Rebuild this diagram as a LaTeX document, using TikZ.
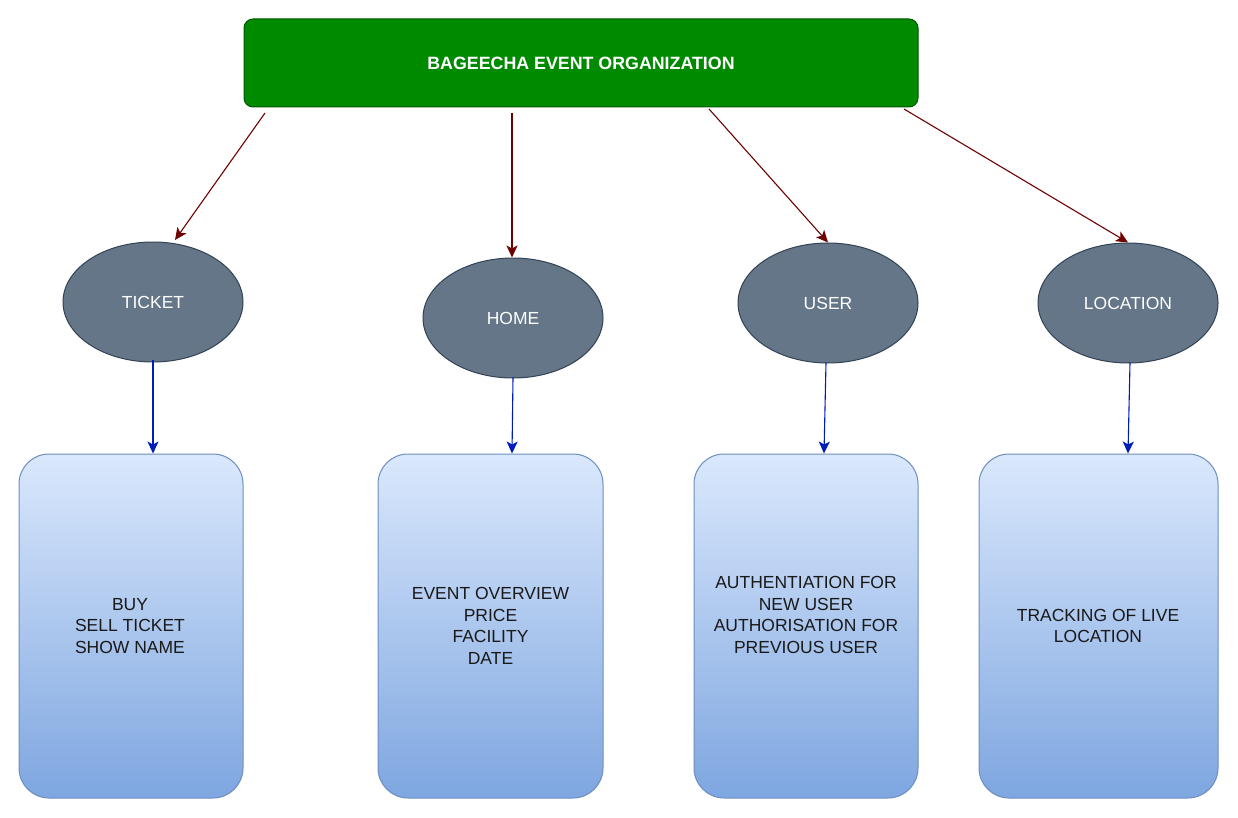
\documentclass[tikz,border=0pt]{standalone}
\usepackage{fontspec}
\setmainfont{Liberation Sans}
\usetikzlibrary{shapes.geometric,arrows.meta}
\definecolor{topfill}{HTML}{008A00}
\definecolor{topdraw}{HTML}{005700}
\definecolor{ellfill}{HTML}{647687}
\definecolor{elldraw}{HTML}{314354}
\definecolor{redarr}{HTML}{6F0000}
\definecolor{bluearr}{HTML}{001DBC}
\definecolor{boxtop}{HTML}{DAE8FC}
\definecolor{boxbot}{HTML}{7EA6E0}
\definecolor{boxdraw}{HTML}{6C8EBF}
\tikzset{
  topbox/.style={draw=topdraw, fill=topfill, line width=1pt, rounded corners=9pt,
    minimum width=674pt, minimum height=88pt, inner sep=0pt,
    font=\fontsize{17.8}{20}\selectfont\bfseries, text=white},
  ell/.style={ellipse, draw=elldraw, fill=ellfill, line width=1pt,
    minimum width=180pt, minimum height=120pt, inner sep=0pt,
    font=\fontsize{17.5}{21}\selectfont, text=white},
  infobox/.style={draw=boxdraw, line width=1pt, rounded corners=30pt,
    top color=boxtop, bottom color=boxbot, inner sep=0pt, minimum height=344pt},
  infotext/.style={align=center, font=\fontsize{17.5}{21.7}\selectfont, text=black!90},
  redarrow/.style={draw=redarr, line width=1.1pt, -{Stealth[length=12pt,width=11pt,inset=3pt]}},
  bluearrow/.style={draw=bluearr, line width=1.1pt, -{Stealth[length=12pt,width=11pt,inset=3pt]}}
}
\begin{document}
\begin{tikzpicture}[x=1pt,y=-1pt]
\useasboundingbox (0,0) rectangle (1238,818);
\fill[white] (0,0) rectangle (1238,818);

\node[topbox] (top) at (581,63) {BAGEECHA EVENT ORGANIZATION};

\node[ell] (ticket) at (153,302) {TICKET};
\node[ell] (home) at (513,318) {HOME};
\node[ell] (user) at (828,303) {USER};
\node[ell] (loc) at (1128,303) {LOCATION};

\node[infobox, minimum width=224pt] (tbox) at (131,626) {};
\node[infobox, minimum width=225pt] (hbox) at (490.5,626) {};
\node[infobox, minimum width=224pt] (ubox) at (806,626) {};
\node[infobox, minimum width=239pt] (lbox) at (1098.5,626) {};

\node[infotext] (ttext) at (130,626) {BUY\\SELL TICKET\\SHOW NAME};
\node[infotext] (htext) at (490.5,626) {EVENT OVERVIEW\\PRICE\\FACILITY\\DATE};
\node[infotext] (utext) at (806,615) {AUTHENTIATION FOR\\NEW USER\\AUTHORISATION FOR\\PREVIOUS USER};
\node[infotext] (ltext) at (1098,626) {TRACKING OF LIVE\\LOCATION};

\coordinate (s1) at (265,113);
\coordinate (s2) at (512,113);
\coordinate (s3) at (709,109);
\coordinate (s4) at (904,109);
\coordinate (e1) at (175,240);

\draw[redarrow] (s1) -- (e1);
\draw[redarrow] (s2) -- (s2 |- home.north);
\draw[redarrow] (s3) -- (user.north);
\draw[redarrow] (s4) -- (loc.north);

\draw[bluearrow] ([yshift=3pt]ticket.south) -- (ticket.south |- tbox.north);
\draw[bluearrow] ([yshift=1pt]home.south) -- ([xshift=-1pt]home.south |- hbox.north);
\draw[bluearrow] ([yshift=1pt,xshift=-2pt]user.south) -- ([xshift=-4pt]user.south |- ubox.north);
\draw[bluearrow] ([yshift=1pt,xshift=2pt]loc.south) -- (loc.south |- lbox.north);
\end{tikzpicture}
\end{document}
